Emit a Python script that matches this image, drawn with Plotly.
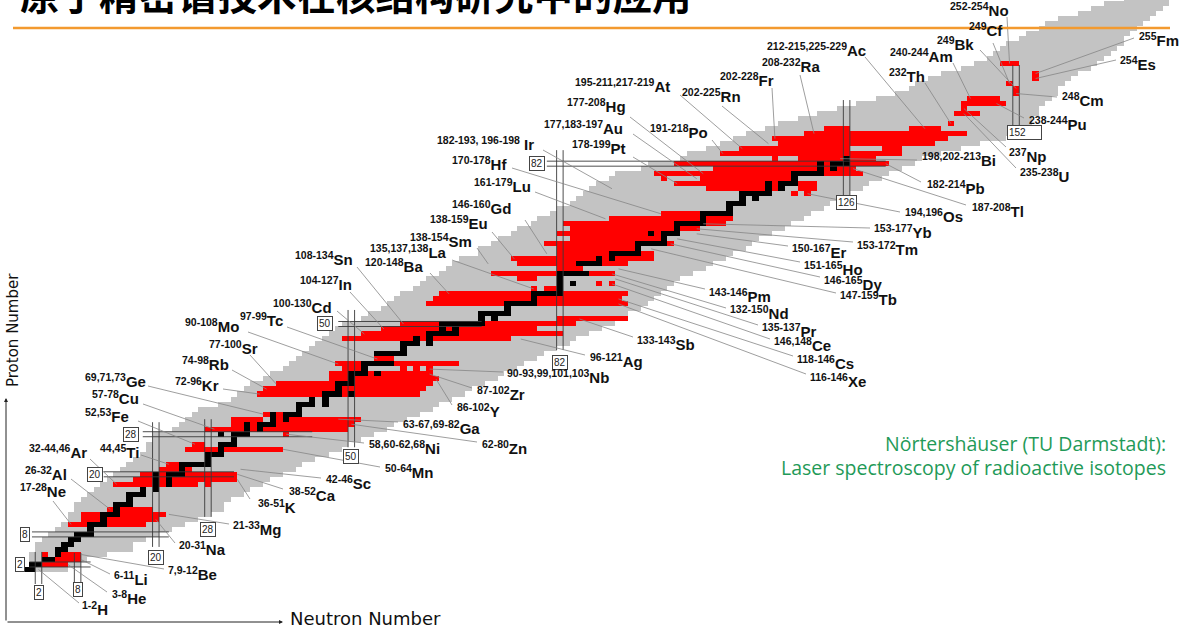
import numpy as np
import plotly.graph_objects as go

# ---------------------------------------------------------------- data
# Extent of the chart of nuclides: lightest and heaviest mass number for Z = 1..118
known_z = list(range(1, 119))
known_amin = [1, 3, 4, 5, 7, 8, 10, 12, 14, 16, 18, 19, 21, 22, 24, 26, 28, 30, 32, 34,
              36, 38, 40, 42, 44, 45, 47, 48, 52, 54, 56, 58, 60, 64, 67, 69, 71, 73, 76, 78,
              81, 83, 85, 87, 89, 91, 93, 95, 97, 99, 103, 105, 108, 110, 112, 114, 117, 119, 121, 124,
              126, 128, 130, 134, 135, 138, 140, 143, 145, 148, 150, 153, 155, 158, 160, 162, 164, 166, 169, 171,
              176, 178, 184, 186, 190, 193, 196, 199, 203, 206, 210, 214, 218, 222, 226, 230, 233, 235, 238, 241,
              245, 248, 251, 253, 255, 257, 260, 262, 265, 267, 270, 274, 277, 280, 284, 288, 291, 294]
known_amax = [7, 10, 12, 16, 21, 22, 25, 28, 31, 34, 37, 40, 43, 44, 46, 49, 51, 54, 56, 59,
              62, 64, 67, 70, 73, 75, 78, 81, 84, 86, 89, 92, 95, 97, 100, 103, 105, 108, 111, 113,
              116, 118, 121, 123, 126, 129, 131, 134, 137, 140, 142, 144, 147, 149, 151, 153, 155, 157, 159, 162,
              165, 167, 170, 172, 175, 177, 179, 182, 185, 187, 190, 192, 195, 197, 200, 202, 205, 207, 210, 212,
              215, 218, 220, 224, 228, 232, 237, 240, 242, 244, 245, 247, 248, 250, 252, 254, 255, 257, 259, 261,
              264, 266, 268, 270, 272, 274, 275, 277, 279, 281, 283, 285, 287, 289, 290, 293, 294, 294]

# Valley of stability (black cells), mass numbers for Z = 1..83
stable_mass = ["1,2", "3,4", "6,7", "9", "10,11", "12,13", "14,15", "16-18", "19", "20-22",
               "23", "24-26", "27", "28-30", "31", "32-34", "35,37", "38,40", "39,41",
               "40,42-44", "45", "46-50", "51", "52-54", "55", "56-58", "59",
               "58,60-62", "63,65", "64,66-68", "69,71", "70,72-74", "75",
               "76-78,80", "79,81", "82-84,86", "85", "86-88", "89",
               "90-92,94", "93", "94-98", "", "98-102", "103",
               "104-106,108", "107,109", "110-114", "113,115",
               "114-120", "121,123", "122-126", "127",
               "128-132", "133", "134-138", "139",
               "140,142", "141", "142-146", "", "147-150",
               "151,153", "154-158", "159", "160-164", "165",
               "164,166-168", "169", "170-174", "175", "176-180",
               "181", "182-184", "185,187", "186-190", "191,193",
               "192,194-196", "197", "198-202", "203,205", "204,206-208", "209"]

# Isotopes studied by laser spectroscopy, per element
lab_sym = ["H", "He", "Li", "Be", "Ne", "Na", "Mg", "Al", "Ar", "K",
           "Ca", "Sc", "Ti", "Mn", "Fe", "Ni", "Cu", "Zn", "Ga", "Ge",
           "Kr", "Rb", "Sr", "Y", "Zr", "Nb", "Mo", "Tc", "Ag", "Cd",
           "In", "Sn", "Sb", "Xe", "Cs", "Ba", "La", "Ce", "Pr", "Nd",
           "Pm", "Sm", "Eu", "Gd", "Tb", "Dy", "Ho", "Er", "Tm", "Yb",
           "Lu", "Hf", "Os", "Ir", "Pt", "Au", "Hg", "Tl", "Pb", "Bi",
           "Po", "At", "Rn", "Fr", "Ra", "Ac", "Th", "U", "Np", "Pu",
           "Am", "Cm", "Bk", "Cf", "Es", "Fm", "No"]
lab_z = [1, 2, 3, 4, 10, 11, 12, 13, 18, 19,
         20, 21, 22, 25, 26, 28, 29, 30, 31, 32,
         36, 37, 38, 39, 40, 41, 42, 43, 47, 48,
         49, 50, 51, 54, 55, 56, 57, 58, 59, 60,
         61, 62, 63, 64, 65, 66, 67, 68, 69, 70,
         71, 72, 76, 77, 78, 79, 80, 81, 82, 83,
         84, 85, 86, 87, 88, 89, 90, 92, 93, 94,
         95, 96, 97, 98, 99, 100, 102]
lab_mass = ["1-2", "3-8", "6-11", "7,9-12", "17-28", "20-31", "21-33", "26-32", "32-44,46", "36-51",
            "38-52", "42-46", "44,45", "50-64", "52,53", "58,60-62,68", "57-78", "62-80", "63-67,69-82", "69,71,73",
            "72-96", "74-98", "77-100", "86-102", "87-102", "90-93,99,101,103", "90-108", "97-99", "96-121", "100-130",
            "104-127", "108-134", "133-143", "116-146", "118-146", "120-148", "135,137,138", "146,148", "135-137", "132-150",
            "143-146", "138-154", "138-159", "146-160", "147-159", "146-165", "151-165", "150-167", "153-172", "153-177",
            "161-179", "170-178", "194,196", "182-193, 196-198", "178-199", "177,183-197", "177-208", "187-208", "182-214", "198,202-213",
            "191-218", "195-211,217-219", "202-225", "202-228", "208-232", "212-215,225-229", "232", "235-238", "237", "238-244",
            "240-244", "248", "249", "249", "254", "255", "252-254"]

magic_n = [2, 8, 20, 28, 50, 82, 126, 152]
magic_z = [2, 8, 20, 28, 50, 82]

# ---------------------------------------------------------------- geometry
W, H = 1181, 628
X_RANGE = [-3.908, 177.31]      # neutron number across the page
Y_RANGE = [-10.68, 114.67]      # proton number across the page


def px_x(px):
    return X_RANGE[0] + px / W * (X_RANGE[1] - X_RANGE[0])


def px_y(py):
    return Y_RANGE[1] - py / H * (Y_RANGE[1] - Y_RANGE[0])


def parse_masses(s):
    out = []
    for part in s.replace(" ", "").split(","):
        if not part:
            continue
        if "-" in part:
            a, b = part.split("-")
            out.extend(range(int(a), int(b) + 1))
        else:
            out.append(int(part))
    return out


# ---------------------------------------------------------------- cell grid
NMAX, ZMAX = 177, 118
grid = np.full((ZMAX + 1, NMAX + 1), np.nan)
for z, a0, a1 in zip(known_z, known_amin, known_amax):
    for a in range(a0, a1 + 1):
        if 0 <= a - z <= NMAX:
            grid[z, a - z] = 1
for z, m in zip(lab_z, lab_mass):
    for a in parse_masses(m):
        grid[z, a - z] = 2
for i, m in enumerate(stable_mass):
    z = i + 1
    for a in parse_masses(m):
        grid[z, a - z] = 3

GRAY, RED, BLACK = "#c3c3c3", "#ff0000", "#000000"
cell_scale = [[0, GRAY], [1 / 3, GRAY], [1 / 3, RED], [2 / 3, RED], [2 / 3, BLACK], [1, BLACK]]

fig = go.Figure()
fig.add_trace(go.Heatmap(
    x=list(range(NMAX + 1)), y=list(range(ZMAX + 1)), z=grid,
    zmin=0.5, zmax=3.5, colorscale=cell_scale, showscale=False, hoverinfo="skip",
))

# ---------------------------------------------------------------- magic-number lines
# vertical pairs (N magic): top Z, bottom Z, box centre N, box Z
n_line_span = {2: (4.5, -1.9, 2, -3.5), 8: (4.3, -1.7, 8, -2.9), 20: (30.4, 5.5, 20, 3.3),
               28: (31.0, 11.5, 28, 9.0), 50: (52.8, 25.4, 50, 23.5), 82: (84.7, 44.8, 82, 42.4),
               126: (94.7, 75.7, 126, 74.2), 152: (101.7, 89.7, 153.3, 88.3)}
# horizontal pairs (Z magic): box N, start N, end N
z_line_span = {2: (-0.8, 0.6, 10), 8: (-0.1, 1.0, 22), 20: (10.7, 12.0, 32),
               28: (16.2, 18.0, 44), 50: (46.0, 48.0, 70), 82: (78.5, 80.0, 132)}

mx, my = [], []
annotations = []
box_style = dict(showarrow=False, bgcolor="white", bordercolor="#444", borderwidth=1,
                 borderpad=1, font=dict(family="Liberation Sans, Arial", size=10, color="#222"))
for n in magic_n:
    ztop, zbot, nbox, zbox = n_line_span[n]
    for off in (-0.5, 0.5):
        mx += [n + off, n + off, None]
        my += [ztop, zbot, None]
    label = f"{n}     " if n == 152 else str(n)
    annotations.append(dict(x=nbox, y=zbox, xref="x", yref="y", text=label, **box_style))
for z in magic_z:
    nbox, n0, n1 = z_line_span[z]
    for off in (-0.5, 0.5):
        mx += [n0, n1, None]
        my += [z + off, z + off, None]
    annotations.append(dict(x=nbox, y=z, xref="x", yref="y", text=str(z), **box_style))

fig.add_trace(go.Scatter(x=mx, y=my, mode="lines", line=dict(color="#3a3a3a", width=0.9),
                         hoverinfo="skip", showlegend=False))

# ---------------------------------------------------------------- element labels
# text left edge / centre (page px), leader start (page px), leader end (neutron number)
lab_left = [80, 110, 112, 166, 18, 177, 231, 23, 27, 256,
            287, 324, 98, 383, 83, 367, 90, 480, 401, 83,
            173, 180, 207, 455, 475, 505, 183, 238, 588, 271,
            298, 293, 635, 808, 795, 363, 368, 772, 760, 728,
            707, 408, 428, 450, 838, 822, 802, 790, 855, 872,
            472, 450, 903, 435, 570, 542, 565, 970, 925, 920,
            648, 573, 680, 718, 760, 765, 887, 1018, 1007, 1027,
            888, 1060, 935, 967, 1118, 1137, 948]
lab_cy = [608, 597, 578, 573, 490, 548, 528, 473, 452, 506,
          494, 482, 452, 471, 415, 447, 397, 447, 427, 380,
          384, 363, 347, 410, 393, 376, 325, 319, 360, 306,
          283, 258, 343, 380, 362, 265, 251, 344, 330, 313,
          295, 240, 223, 208, 298, 283, 268, 251, 248, 232,
          185, 163, 216, 143, 148, 128, 105, 210, 187, 160,
          131, 86, 96, 80, 65, 50, 75, 175, 155, 123,
          55, 100, 43, 30, 63, 40, 10]
lead_start = [(79, 603), (107, 592), (110, 574), (164, 569), (53, 501), (175, 543), (229, 524), (71, 479), (90, 459), (250, 499),
              (283, 489), (321, 478), (141, 455), (380, 467), (138, 421), (364, 443), (143, 404), (477, 442), (398, 422), (148, 386),
              (223, 389), (232, 370), (250, 355), (452, 405), (472, 388), (503, 372), (248, 332), (287, 327), (585, 355), (337, 311),
              (350, 292), (357, 267), (633, 337), (806, 374), (793, 356), (430, 273), (452, 260), (770, 339), (758, 325), (726, 308),
              (705, 289), (477, 248), (492, 232), (525, 220), (836, 293), (820, 277), (800, 262), (788, 246), (853, 242), (870, 228),
              (535, 192), (512, 168), (900, 212), (543, 150), (633, 157), (633, 134), (630, 117), (966, 205), (921, 182), (917, 160),
              (712, 140), (680, 95), (722, 106), (772, 88), (800, 75), (865, 57), (925, 83), (1016, 168), (1006, 147), (1024, 118),
              (953, 63), (1057, 97), (980, 50), (993, 43), (1116, 60), (1134, 38), (1007, 17)]
lead_n = [2, 6.5, 8.5, 8.5, 7, 20, 22, 13, 14, 32.5,
          32.5, 33, 22, 39.5, 26, 40, 29, 50, 48, 36.5,
          36, 37, 38.5, 63, 62, 62, 48, 54, 76, 52,
          55, 58, 85, 91, 91, 65, 78, 90, 90.5, 90,
          91, 71, 75, 80, 96, 99, 100, 103, 103, 104,
          89, 97.5, 120, 90, 100, 103, 104, 127, 132, 125,
          107, 110, 114, 115, 121, 138, 142, 144, 144, 149,
          145, 152, 152, 151, 155, 155, 151]

lx, ly = [], []
for (sx, sy), n, z in zip(lead_start, lead_n, lab_z):
    lx += [px_x(sx), n, None]
    ly += [px_y(sy), z, None]
fig.add_trace(go.Scatter(x=lx, y=ly, mode="lines", line=dict(color="#858585", width=0.8),
                         hoverinfo="skip", showlegend=False))

for sym, m, left, cy in zip(lab_sym, lab_mass, lab_left, lab_cy):
    sep = " " if " " in m else ""
    annotations.append(dict(
        x=left / W, y=1 - cy / H, xref="paper", yref="paper", xanchor="left", yanchor="middle",
        text=f"<b><sup>{m}</sup>{sep}{sym}</b>", showarrow=False,
        font=dict(family="Liberation Sans, Arial", size=15, color="#111"),
    ))

# ---------------------------------------------------------------- axes arrows and captions
annotations += [
    dict(x=6 / W, y=1 - 398 / H, xref="paper", yref="paper", ax=0, ay=224, text="",
         showarrow=True, arrowhead=2, arrowsize=0.8, arrowwidth=1, arrowcolor="#222"),
    dict(x=283 / W, y=1 - 622 / H, xref="paper", yref="paper", ax=-277, ay=0, text="",
         showarrow=True, arrowhead=2, arrowsize=0.8, arrowwidth=1, arrowcolor="#222"),
    dict(x=288 / W, y=1 - 618 / H, xref="paper", yref="paper", xanchor="left", yanchor="middle",
         text="Neutron Number", showarrow=False,
         font=dict(family="DejaVu Sans", size=18, color="#111")),
    dict(x=13 / W, y=1 - 330 / H, xref="paper", yref="paper", xanchor="center", yanchor="middle",
         text="Proton Number", textangle=-90, showarrow=False,
         font=dict(family="DejaVu Sans", size=15, color="#111")),
    dict(x=1168 / W, y=1 - 443 / H, xref="paper", yref="paper", xanchor="right", yanchor="middle",
         text="Nörtershäuser (TU Darmstadt):", showarrow=False,
         font=dict(family="Open Sans", size=19.5, color="#1f9a58")),
    dict(x=1168 / W, y=1 - 468 / H, xref="paper", yref="paper", xanchor="right", yanchor="middle",
         text="Laser spectroscopy of radioactive isotopes", showarrow=False,
         font=dict(family="Open Sans", size=19.5, color="#1f9a58")),
    dict(x=18 / W, y=1 + 8 / H, xref="paper", yref="paper", xanchor="left", yanchor="middle",
         text="<b>原子精密谱技术在核结构研究中的应用</b>", showarrow=False,
         font=dict(family="Noto Sans CJK SC", size=39.5, color="#000")),
]

fig.update_layout(
    width=W, height=H, margin=dict(l=0, r=0, t=0, b=0),
    paper_bgcolor="white", plot_bgcolor="white", showlegend=False,
    xaxis=dict(range=X_RANGE, visible=False, fixedrange=True),
    yaxis=dict(range=Y_RANGE, visible=False, fixedrange=True),
    annotations=annotations,
    shapes=[dict(type="line", xref="paper", yref="paper", x0=13 / W, x1=1170 / W,
                 y0=1 - 28 / H, y1=1 - 28 / H, line=dict(color="#f39a2f", width=2.5), layer="above")],
)

fig.write_html("out.html")
